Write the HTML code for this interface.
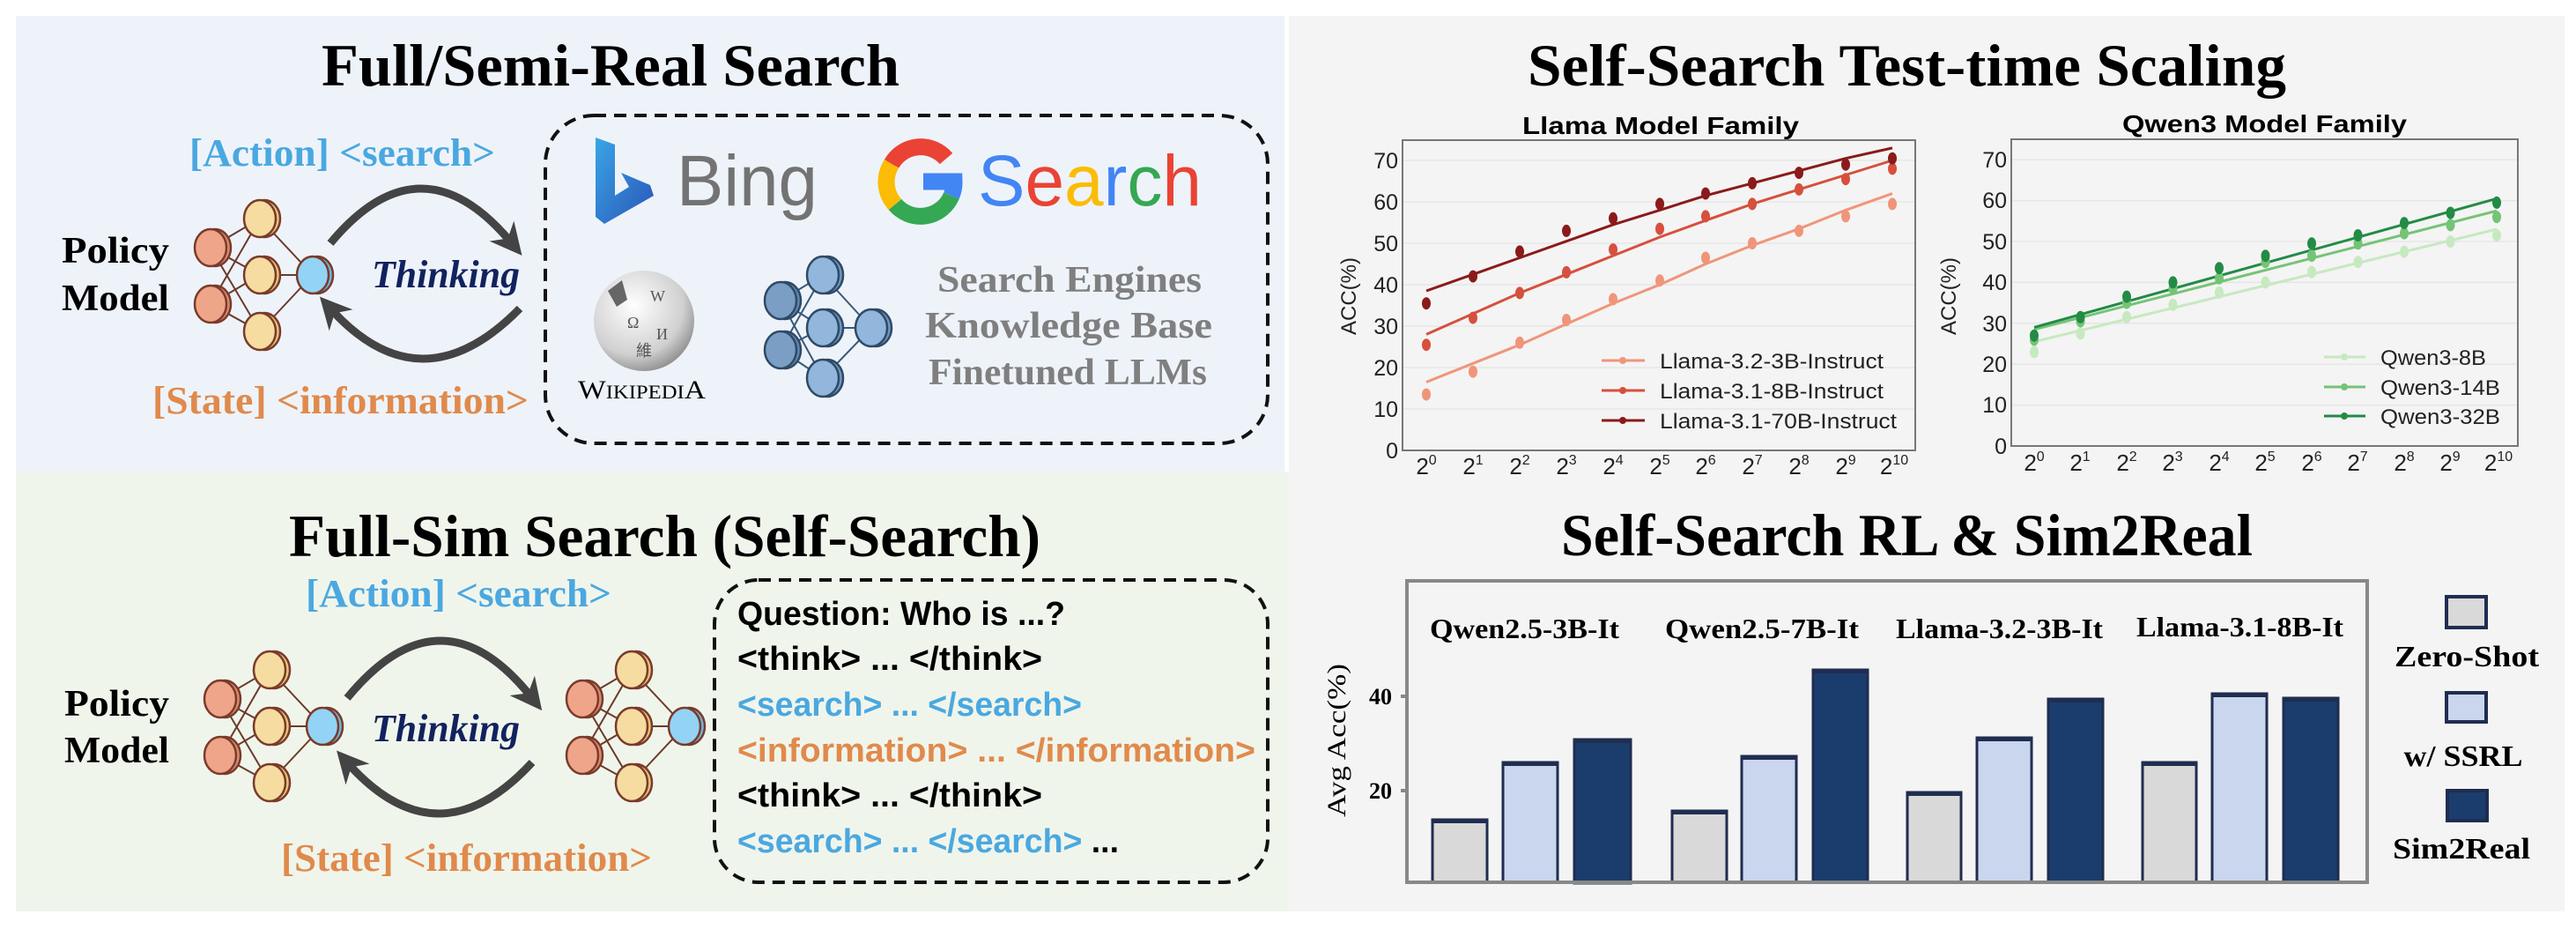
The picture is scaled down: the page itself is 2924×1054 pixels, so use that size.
<!DOCTYPE html>
<html><head><meta charset="utf-8"><style>
html,body{margin:0;padding:0;background:#fff;}
svg{display:block;}
.ser{font-family:"Liberation Serif",serif;font-weight:bold;}
.san{font-family:"Liberation Sans Narrow","Liberation Sans",sans-serif;}
</style></head><body>
<svg width="2924" height="1054" viewBox="0 0 2924 1054" xmlns="http://www.w3.org/2000/svg">
<defs>
<marker id="ah" viewBox="0 0 10 10" refX="5" refY="5" markerWidth="4" markerHeight="4" orient="auto"><path d="M0,0 L10,5 L0,10 L3,5 z" fill="#444"/></marker>
<g id="net">
 <g stroke="#6b3a2a" stroke-width="2">
  <line x1="-56" y1="-31" x2="0" y2="-64"/><line x1="-56" y1="-31" x2="0" y2="0"/><line x1="-56" y1="-31" x2="0" y2="64"/>
  <line x1="-56" y1="33" x2="0" y2="-64"/><line x1="-56" y1="33" x2="0" y2="0"/><line x1="-56" y1="33" x2="0" y2="64"/>
  <line x1="0" y1="-64" x2="60" y2="0"/><line x1="0" y1="0" x2="60" y2="0"/><line x1="0" y1="64" x2="60" y2="0"/>
 </g>
 <g stroke="#7a3b2a" stroke-width="2.5">
  <ellipse cx="-51" cy="-31" rx="18" ry="21" fill="#d98c70"/><ellipse cx="-56" cy="-31" rx="18" ry="21" fill="#eea58a"/>
  <ellipse cx="-51" cy="33" rx="18" ry="21" fill="#d98c70"/><ellipse cx="-56" cy="33" rx="18" ry="21" fill="#eea58a"/>
  <ellipse cx="5" cy="-64" rx="18" ry="21" fill="#e6c47c"/><ellipse cx="0" cy="-64" rx="18" ry="21" fill="#f6dca0"/>
  <ellipse cx="5" cy="0" rx="18" ry="21" fill="#e6c47c"/><ellipse cx="0" cy="0" rx="18" ry="21" fill="#f6dca0"/>
  <ellipse cx="5" cy="64" rx="18" ry="21" fill="#e6c47c"/><ellipse cx="0" cy="64" rx="18" ry="21" fill="#f6dca0"/>
  <ellipse cx="65" cy="0" rx="18" ry="21" fill="#6fb5de"/><ellipse cx="60" cy="0" rx="18" ry="21" fill="#93d3f5"/>
 </g>
</g>
<linearGradient id="bing" x1="0" y1="0" x2="1" y2="1"><stop offset="0" stop-color="#3aa5e6"/><stop offset="1" stop-color="#2a55b8"/></linearGradient>
<radialGradient id="globe" cx="0.4" cy="0.35" r="0.7"><stop offset="0" stop-color="#ffffff"/><stop offset="0.7" stop-color="#d0d0d0"/><stop offset="1" stop-color="#8a8a8a"/></radialGradient>
</defs>

<!-- panels -->
<rect x="18" y="18" width="1440" height="517" fill="#eef3fa"/>
<rect x="18" y="535" width="1445" height="499" fill="#f0f5ec"/>
<rect x="1463" y="18" width="1448" height="1016" fill="#f4f4f4"/>

<!-- ===== Top-left ===== -->
<text class="ser" x="365" y="97" font-size="68" textLength="656" lengthAdjust="spacingAndGlyphs">Full/Semi-Real Search</text>
<text class="ser" x="215" y="188" font-size="44" fill="#4aa8e0" textLength="347" lengthAdjust="spacingAndGlyphs">[Action] &lt;search&gt;</text>
<text class="ser" x="173" y="469" font-size="44" fill="#e08a4c" textLength="427" lengthAdjust="spacingAndGlyphs">[State] &lt;information&gt;</text>
<text class="ser" x="70" y="298" font-size="42" textLength="122" lengthAdjust="spacingAndGlyphs">Policy</text>
<text class="ser" x="70" y="352" font-size="42" textLength="122" lengthAdjust="spacingAndGlyphs">Model</text>
<use href="#net" x="295" y="312"/>
<path d="M375,276 Q478,152 581,276" fill="none" stroke="#444" stroke-width="9" marker-end="url(#ah)"/>
<path d="M590,350 Q478,464 375,350" fill="none" stroke="#444" stroke-width="9" marker-end="url(#ah)"/>
<text class="ser" x="422" y="326" font-size="44" font-style="italic" fill="#12225e" textLength="168" lengthAdjust="spacingAndGlyphs">Thinking</text>
<rect x="619" y="131" width="820" height="372" rx="55" fill="none" stroke="#111" stroke-width="4" stroke-dasharray="14,9"/>
<!-- bing -->
<path d="M676,156 L698,164 L698,222 L714,212 L705,196 L738,210 L742,222 L686,254 L676,246 Z" fill="url(#bing)"/>
<text x="768" y="233" font-family="Liberation Sans,sans-serif" font-size="82" fill="#737373" textLength="160" lengthAdjust="spacingAndGlyphs">Bing</text>
<!-- google G -->
<g fill="none" stroke-width="19">
 <path d="M1074,180 A38,38 0 0 0 1012,186" stroke="#ea4335"/>
 <path d="M1012,186 A38,38 0 0 0 1016,232" stroke="#fbbc05"/>
 <path d="M1016,232 A38,38 0 0 0 1080,222" stroke="#34a853"/>
 <path d="M1080,222 A38,38 0 0 0 1083,206 L1048,206" stroke="#4285f4"/>
</g>
<text x="1110" y="233" font-family="Liberation Sans,sans-serif" font-size="82" textLength="254" lengthAdjust="spacingAndGlyphs"><tspan fill="#4285f4">S</tspan><tspan fill="#ea4335">e</tspan><tspan fill="#fbbc05">a</tspan><tspan fill="#4285f4">r</tspan><tspan fill="#34a853">c</tspan><tspan fill="#ea4335">h</tspan></text>
<!-- wikipedia -->
<circle cx="731" cy="364" r="57" fill="url(#globe)"/>
<g font-family="Liberation Serif,serif" fill="#555" font-size="18"><text x="712" y="372">Ω</text><text x="738" y="342">W</text><text x="745" y="385">И</text><text x="722" y="404">維</text></g>
<path d="M690,330 L706,318 L712,340 L700,348 Z" fill="#666"/>
<text x="656" y="452" font-family="Liberation Serif,serif" font-size="30" textLength="145" lengthAdjust="spacingAndGlyphs">W<tspan font-size="22">IKIPEDI</tspan>A</text>
<!-- blue net -->
<g stroke="#3a5878" stroke-width="2">
 <line x1="886" y1="341" x2="934" y2="312"/><line x1="886" y1="341" x2="934" y2="372"/><line x1="886" y1="341" x2="934" y2="429"/>
 <line x1="886" y1="397" x2="934" y2="312"/><line x1="886" y1="397" x2="934" y2="372"/><line x1="886" y1="397" x2="934" y2="429"/>
 <line x1="934" y1="312" x2="989" y2="372"/><line x1="934" y1="372" x2="989" y2="372"/><line x1="934" y1="429" x2="989" y2="372"/>
</g>
<g stroke="#2f4a66" stroke-width="2.5">
 <ellipse cx="891" cy="341" rx="18" ry="21" fill="#5f86ad"/><ellipse cx="886" cy="341" rx="18" ry="21" fill="#7b9fc4"/>
 <ellipse cx="891" cy="397" rx="18" ry="21" fill="#5f86ad"/><ellipse cx="886" cy="397" rx="18" ry="21" fill="#7b9fc4"/>
 <ellipse cx="939" cy="312" rx="18" ry="21" fill="#6f97c2"/><ellipse cx="934" cy="312" rx="18" ry="21" fill="#92b6dc"/>
 <ellipse cx="939" cy="372" rx="18" ry="21" fill="#6f97c2"/><ellipse cx="934" cy="372" rx="18" ry="21" fill="#92b6dc"/>
 <ellipse cx="939" cy="429" rx="18" ry="21" fill="#6f97c2"/><ellipse cx="934" cy="429" rx="18" ry="21" fill="#92b6dc"/>
 <ellipse cx="994" cy="372" rx="18" ry="21" fill="#6f97c2"/><ellipse cx="989" cy="372" rx="18" ry="21" fill="#92b6dc"/>
</g>
<g class="ser" font-size="42" fill="#7f7f7f">
 <text x="1064" y="331" textLength="300" lengthAdjust="spacingAndGlyphs">Search Engines</text>
 <text x="1050" y="383" textLength="326" lengthAdjust="spacingAndGlyphs">Knowledge Base</text>
 <text x="1054" y="436" textLength="316" lengthAdjust="spacingAndGlyphs">Finetuned LLMs</text>
</g>

<!-- ===== Bottom-left ===== -->
<text class="ser" x="328" y="631" font-size="68" textLength="853" lengthAdjust="spacingAndGlyphs">Full-Sim Search (Self-Search)</text>
<text class="ser" x="347" y="688" font-size="44" fill="#4aa8e0" textLength="347" lengthAdjust="spacingAndGlyphs">[Action] &lt;search&gt;</text>
<text class="ser" x="319" y="988" font-size="44" fill="#e08a4c" textLength="421" lengthAdjust="spacingAndGlyphs">[State] &lt;information&gt;</text>
<text class="ser" x="73" y="812" font-size="42" textLength="119" lengthAdjust="spacingAndGlyphs">Policy</text>
<text class="ser" x="73" y="865" font-size="42" textLength="119" lengthAdjust="spacingAndGlyphs">Model</text>
<use href="#net" x="306" y="824"/>
<use href="#net" x="717" y="824"/>
<path d="M394,792 Q501,662 604,792" fill="none" stroke="#444" stroke-width="9" marker-end="url(#ah)"/>
<path d="M604,865 Q497,981 394,865" fill="none" stroke="#444" stroke-width="9" marker-end="url(#ah)"/>
<text class="ser" x="422" y="841" font-size="44" font-style="italic" fill="#12225e" textLength="168" lengthAdjust="spacingAndGlyphs">Thinking</text>
<rect x="811" y="658" width="628" height="343" rx="50" fill="none" stroke="#111" stroke-width="4" stroke-dasharray="14,9"/>
<g class="san" font-size="38" font-weight="bold">
 <text x="837" y="709" textLength="372" lengthAdjust="spacingAndGlyphs">Question: Who is ...?</text>
 <text x="837" y="760" textLength="346" lengthAdjust="spacingAndGlyphs">&lt;think&gt; ... &lt;/think&gt;</text>
 <text x="837" y="812" fill="#4aa8e0" textLength="391" lengthAdjust="spacingAndGlyphs">&lt;search&gt; ... &lt;/search&gt;</text>
 <text x="837" y="864" fill="#e08a4c" textLength="588" lengthAdjust="spacingAndGlyphs">&lt;information&gt; ... &lt;/information&gt;</text>
 <text x="837" y="915" textLength="346" lengthAdjust="spacingAndGlyphs">&lt;think&gt; ... &lt;/think&gt;</text>
 <text x="837" y="967" textLength="433" lengthAdjust="spacingAndGlyphs"><tspan fill="#4aa8e0">&lt;search&gt; ... &lt;/search&gt;</tspan> ...</text>
</g>

<!-- ===== Top-right ===== -->
<text class="ser" x="1734" y="97" font-size="68" textLength="861" lengthAdjust="spacingAndGlyphs">Self-Search Test-time Scaling</text>
<text class="san" x="1728" y="152" font-size="28" font-weight="bold" textLength="314" lengthAdjust="spacingAndGlyphs">Llama Model Family</text>
<text class="san" x="2409" y="150" font-size="28" font-weight="bold" textLength="323" lengthAdjust="spacingAndGlyphs">Qwen3 Model Family</text>
<!-- Llama grid/frame -->
<g stroke="#e6e6e6" stroke-width="1.5">
 <line x1="1592" x2="2174" y1="464" y2="464"/><line x1="1592" x2="2174" y1="417" y2="417"/><line x1="1592" x2="2174" y1="370" y2="370"/><line x1="1592" x2="2174" y1="323" y2="323"/><line x1="1592" x2="2174" y1="276" y2="276"/><line x1="1592" x2="2174" y1="229" y2="229"/><line x1="1592" x2="2174" y1="182" y2="182"/>
 <line x1="2283" x2="2858" y1="459.6" y2="459.6"/><line x1="2283" x2="2858" y1="413.2" y2="413.2"/><line x1="2283" x2="2858" y1="366.8" y2="366.8"/><line x1="2283" x2="2858" y1="320.4" y2="320.4"/><line x1="2283" x2="2858" y1="274" y2="274"/><line x1="2283" x2="2858" y1="227.6" y2="227.6"/><line x1="2283" x2="2858" y1="181.2" y2="181.2"/>
</g>
<rect x="1592" y="159" width="582" height="352" fill="none" stroke="#777" stroke-width="2"/>
<rect x="2283" y="158" width="575" height="348" fill="none" stroke="#777" stroke-width="2"/>
<g class="san" font-size="25" fill="#222" text-anchor="end">
 <text x="1587" y="520">0</text><text x="1587" y="473">10</text><text x="1587" y="426">20</text><text x="1587" y="379">30</text><text x="1587" y="332">40</text><text x="1587" y="285">50</text><text x="1587" y="238">60</text><text x="1587" y="191">70</text>
 <text x="2278" y="515">0</text><text x="2278" y="468">10</text><text x="2278" y="422">20</text><text x="2278" y="376">30</text><text x="2278" y="329">40</text><text x="2278" y="283">50</text><text x="2278" y="236">60</text><text x="2278" y="190">70</text>
</g>
<g class="san" font-size="26" fill="#222" text-anchor="middle">
 <text x="1619" y="538">2<tspan font-size="16" dy="-11">0</tspan></text>
 <text x="1672" y="538">2<tspan font-size="16" dy="-11">1</tspan></text>
 <text x="1725" y="538">2<tspan font-size="16" dy="-11">2</tspan></text>
 <text x="1778" y="538">2<tspan font-size="16" dy="-11">3</tspan></text>
 <text x="1831" y="538">2<tspan font-size="16" dy="-11">4</tspan></text>
 <text x="1884" y="538">2<tspan font-size="16" dy="-11">5</tspan></text>
 <text x="1936" y="538">2<tspan font-size="16" dy="-11">6</tspan></text>
 <text x="1989" y="538">2<tspan font-size="16" dy="-11">7</tspan></text>
 <text x="2042" y="538">2<tspan font-size="16" dy="-11">8</tspan></text>
 <text x="2095" y="538">2<tspan font-size="16" dy="-11">9</tspan></text>
 <text x="2150" y="538">2<tspan font-size="16" dy="-11">10</tspan></text>
 <text x="2309" y="534">2<tspan font-size="16" dy="-11">0</tspan></text>
 <text x="2361" y="534">2<tspan font-size="16" dy="-11">1</tspan></text>
 <text x="2414" y="534">2<tspan font-size="16" dy="-11">2</tspan></text>
 <text x="2466" y="534">2<tspan font-size="16" dy="-11">3</tspan></text>
 <text x="2519" y="534">2<tspan font-size="16" dy="-11">4</tspan></text>
 <text x="2571" y="534">2<tspan font-size="16" dy="-11">5</tspan></text>
 <text x="2624" y="534">2<tspan font-size="16" dy="-11">6</tspan></text>
 <text x="2676" y="534">2<tspan font-size="16" dy="-11">7</tspan></text>
 <text x="2729" y="534">2<tspan font-size="16" dy="-11">8</tspan></text>
 <text x="2781" y="534">2<tspan font-size="16" dy="-11">9</tspan></text>
 <text x="2836" y="534">2<tspan font-size="16" dy="-11">10</tspan></text>
</g>
<text font-family="Liberation Sans,sans-serif" font-size="24" fill="#222" text-anchor="middle" transform="translate(1539,336) rotate(-90)">ACC(%)</text>
<text font-family="Liberation Sans,sans-serif" font-size="24" fill="#222" text-anchor="middle" transform="translate(2220,336) rotate(-90)">ACC(%)</text>
<!-- Llama series -->
<g fill="none" stroke-width="3">
 <polyline stroke="#f0957a" points="1619,433.5 1672,412.3 1725,391.2 1778,367.6 1831,344.2 1884,323 1936,299.5 1989,278.4 2042,259.6 2095,238.4 2148,219.6"/>
 <polyline stroke="#d6503d" points="1619,379.4 1672,355.9 1725,332.4 1778,311.3 1831,290.1 1884,269 1936,250.2 1989,231.4 2042,214.9 2095,198.5 2148,182"/>
 <polyline stroke="#8b1a1a" points="1619,330 1672,311.3 1725,292.5 1778,273.7 1831,254.9 1884,238.4 1936,221.9 1989,207.9 2042,193.8 2095,179.7 2148,167.9"/>
</g>
<g fill="#f0957a"><ellipse cx="1619" cy="447.6" rx="5" ry="7"/><ellipse cx="1672" cy="421.7" rx="5" ry="7"/><ellipse cx="1725" cy="388.8" rx="5" ry="7"/><ellipse cx="1778" cy="363" rx="5" ry="7"/><ellipse cx="1831" cy="339.5" rx="5" ry="7"/><ellipse cx="1884" cy="318.3" rx="5" ry="7"/><ellipse cx="1936" cy="292.5" rx="5" ry="7"/><ellipse cx="1989" cy="276" rx="5" ry="7"/><ellipse cx="2042" cy="261.9" rx="5" ry="7"/><ellipse cx="2095" cy="245.4" rx="5" ry="7"/><ellipse cx="2148" cy="231.4" rx="5" ry="7"/></g>
<g fill="#d6503d"><ellipse cx="1619" cy="391.2" rx="5" ry="7"/><ellipse cx="1672" cy="360.6" rx="5" ry="7"/><ellipse cx="1725" cy="332.4" rx="5" ry="7"/><ellipse cx="1778" cy="308.9" rx="5" ry="7"/><ellipse cx="1831" cy="283.1" rx="5" ry="7"/><ellipse cx="1884" cy="259.6" rx="5" ry="7"/><ellipse cx="1936" cy="245.4" rx="5" ry="7"/><ellipse cx="1989" cy="231.4" rx="5" ry="7"/><ellipse cx="2042" cy="214.9" rx="5" ry="7"/><ellipse cx="2095" cy="203.2" rx="5" ry="7"/><ellipse cx="2148" cy="191.4" rx="5" ry="7"/></g>
<g fill="#8b1a1a"><ellipse cx="1619" cy="344.2" rx="5" ry="7"/><ellipse cx="1672" cy="313.6" rx="5" ry="7"/><ellipse cx="1725" cy="285.4" rx="5" ry="7"/><ellipse cx="1778" cy="261.9" rx="5" ry="7"/><ellipse cx="1831" cy="247.8" rx="5" ry="7"/><ellipse cx="1884" cy="231.4" rx="5" ry="7"/><ellipse cx="1936" cy="219.6" rx="5" ry="7"/><ellipse cx="1989" cy="207.9" rx="5" ry="7"/><ellipse cx="2042" cy="196.1" rx="5" ry="7"/><ellipse cx="2095" cy="186.7" rx="5" ry="7"/><ellipse cx="2148" cy="179.7" rx="5" ry="7"/></g>
<!-- Llama legend -->
<g stroke-width="3">
 <line x1="1818" x2="1867" y1="409" y2="409" stroke="#f0957a"/><circle cx="1842" cy="409" r="4" fill="#f0957a"/>
 <line x1="1818" x2="1867" y1="443" y2="443" stroke="#d6503d"/><circle cx="1842" cy="443" r="4" fill="#d6503d"/>
 <line x1="1818" x2="1867" y1="477" y2="477" stroke="#8b1a1a"/><circle cx="1842" cy="477" r="4" fill="#8b1a1a"/>
</g>
<g class="san" font-size="24" fill="#222">
 <text x="1884" y="418" textLength="254" lengthAdjust="spacingAndGlyphs">Llama-3.2-3B-Instruct</text>
 <text x="1884" y="452" textLength="254" lengthAdjust="spacingAndGlyphs">Llama-3.1-8B-Instruct</text>
 <text x="1884" y="486" textLength="269" lengthAdjust="spacingAndGlyphs">Llama-3.1-70B-Instruct</text>
</g>
<!-- Qwen series -->
<g fill="none" stroke-width="3">
 <line stroke="#c7e9c0" x1="2309" y1="387.7" x2="2834" y2="260.1"/>
 <line stroke="#74c476" x1="2309" y1="373.8" x2="2834" y2="239.2"/>
 <line stroke="#238b45" x1="2309" y1="371.4" x2="2834" y2="225.3"/>
</g>
<g fill="#c7e9c0"><ellipse cx="2309" cy="399.3" rx="5" ry="7"/><ellipse cx="2361.5" cy="378.4" rx="5" ry="7"/><ellipse cx="2414" cy="359.8" rx="5" ry="7"/><ellipse cx="2466.5" cy="345.9" rx="5" ry="7"/><ellipse cx="2519" cy="332" rx="5" ry="7"/><ellipse cx="2571.5" cy="320.4" rx="5" ry="7"/><ellipse cx="2624" cy="308.8" rx="5" ry="7"/><ellipse cx="2676.5" cy="297.2" rx="5" ry="7"/><ellipse cx="2729" cy="285.6" rx="5" ry="7"/><ellipse cx="2781.5" cy="274" rx="5" ry="7"/><ellipse cx="2834" cy="267" rx="5" ry="7"/></g>
<g fill="#74c476"><ellipse cx="2309" cy="385.4" rx="5" ry="7"/><ellipse cx="2361.5" cy="364.5" rx="5" ry="7"/><ellipse cx="2414" cy="343.6" rx="5" ry="7"/><ellipse cx="2466.5" cy="327.4" rx="5" ry="7"/><ellipse cx="2519" cy="315.8" rx="5" ry="7"/><ellipse cx="2571.5" cy="297.2" rx="5" ry="7"/><ellipse cx="2624" cy="290.2" rx="5" ry="7"/><ellipse cx="2676.5" cy="276.3" rx="5" ry="7"/><ellipse cx="2729" cy="264.7" rx="5" ry="7"/><ellipse cx="2781.5" cy="255.4" rx="5" ry="7"/><ellipse cx="2834" cy="246.2" rx="5" ry="7"/></g>
<g fill="#238b45"><ellipse cx="2309" cy="380.7" rx="5" ry="7"/><ellipse cx="2361.5" cy="359.8" rx="5" ry="7"/><ellipse cx="2414" cy="336.6" rx="5" ry="7"/><ellipse cx="2466.5" cy="320.4" rx="5" ry="7"/><ellipse cx="2519" cy="304.2" rx="5" ry="7"/><ellipse cx="2571.5" cy="290.2" rx="5" ry="7"/><ellipse cx="2624" cy="276.3" rx="5" ry="7"/><ellipse cx="2676.5" cy="267" rx="5" ry="7"/><ellipse cx="2729" cy="253.1" rx="5" ry="7"/><ellipse cx="2781.5" cy="241.5" rx="5" ry="7"/><ellipse cx="2834" cy="229.9" rx="5" ry="7"/></g>
<g stroke-width="3">
 <line x1="2638" x2="2685" y1="405" y2="405" stroke="#c7e9c0"/><circle cx="2661" cy="405" r="4" fill="#c7e9c0"/>
 <line x1="2638" x2="2685" y1="439" y2="439" stroke="#74c476"/><circle cx="2661" cy="439" r="4" fill="#74c476"/>
 <line x1="2638" x2="2685" y1="472" y2="472" stroke="#238b45"/><circle cx="2661" cy="472" r="4" fill="#238b45"/>
</g>
<g class="san" font-size="24" fill="#222">
 <text x="2702" y="414" textLength="120" lengthAdjust="spacingAndGlyphs">Qwen3-8B</text>
 <text x="2702" y="448" textLength="136" lengthAdjust="spacingAndGlyphs">Qwen3-14B</text>
 <text x="2702" y="481" textLength="136" lengthAdjust="spacingAndGlyphs">Qwen3-32B</text>
</g>

<!-- ===== Bottom-right ===== -->
<text class="ser" x="1772" y="630" font-size="68" textLength="785" lengthAdjust="spacingAndGlyphs">Self-Search RL &amp; Sim2Real</text>
<g class="ser" font-size="32">
 <text x="1623" y="724" textLength="215" lengthAdjust="spacingAndGlyphs">Qwen2.5-3B-It</text>
 <text x="1890" y="724" textLength="220" lengthAdjust="spacingAndGlyphs">Qwen2.5-7B-It</text>
 <text x="2152" y="724" textLength="235" lengthAdjust="spacingAndGlyphs">Llama-3.2-3B-It</text>
 <text x="2425" y="722" textLength="235" lengthAdjust="spacingAndGlyphs">Llama-3.1-8B-It</text>
</g>
<g stroke="#1f2d50" stroke-width="3">
 <rect x="1626" y="930" width="62" height="71" fill="#d9d9d9"/>
 <rect x="1706" y="865" width="62" height="136" fill="#c9d6ee"/>
 <rect x="1787" y="839" width="64" height="163" fill="#1a3d6e"/>
 <rect x="1898" y="920" width="62" height="81" fill="#d9d9d9"/>
 <rect x="1977" y="858" width="62" height="143" fill="#c9d6ee"/>
 <rect x="2058" y="760" width="62" height="241" fill="#1a3d6e"/>
 <rect x="2165" y="899" width="61" height="102" fill="#d9d9d9"/>
 <rect x="2244" y="837" width="62" height="164" fill="#c9d6ee"/>
 <rect x="2325" y="793" width="62" height="208" fill="#1a3d6e"/>
 <rect x="2432" y="865" width="61" height="136" fill="#d9d9d9"/>
 <rect x="2511" y="787" width="62" height="214" fill="#c9d6ee"/>
 <rect x="2592" y="792" width="62" height="209" fill="#1a3d6e"/>
</g>
<g fill="#1f2d50">
 <rect x="1626" y="929" width="62" height="5"/><rect x="1706" y="864" width="62" height="5"/><rect x="1787" y="838" width="64" height="5"/>
 <rect x="1898" y="919" width="62" height="5"/><rect x="1977" y="857" width="62" height="5"/><rect x="2058" y="759" width="62" height="5"/>
 <rect x="2165" y="898" width="61" height="5"/><rect x="2244" y="836" width="62" height="5"/><rect x="2325" y="792" width="62" height="5"/>
 <rect x="2432" y="864" width="61" height="5"/><rect x="2511" y="786" width="62" height="5"/><rect x="2592" y="791" width="62" height="5"/>
</g>
<rect x="1597" y="659" width="1090" height="342" fill="none" stroke="#888" stroke-width="4"/>
<g stroke="#888" stroke-width="4"><line x1="1590" x2="1599" y1="790" y2="790"/><line x1="1590" x2="1599" y1="897" y2="897"/></g>
<g class="ser" font-size="26" text-anchor="end"><text x="1580" y="799">40</text><text x="1580" y="906">20</text></g>
<text font-family="Liberation Serif,serif" font-size="30" text-anchor="middle" textLength="174" lengthAdjust="spacingAndGlyphs" transform="translate(1527,840) rotate(-90)">Avg Acc(%)</text>
<g stroke="#1f2d50" stroke-width="4">
 <rect x="2777" y="677" width="45" height="35" fill="#d9d9d9"/>
 <rect x="2777" y="786" width="45" height="33" fill="#c9d6ee"/>
 <rect x="2778" y="897" width="45" height="34" fill="#1a3d6e"/>
</g>
<g class="ser" font-size="34" text-anchor="middle">
 <text x="2800" y="756" textLength="164" lengthAdjust="spacingAndGlyphs">Zero-Shot</text>
 <text x="2796" y="869" textLength="135" lengthAdjust="spacingAndGlyphs">w/ SSRL</text>
 <text x="2794" y="974" textLength="156" lengthAdjust="spacingAndGlyphs">Sim2Real</text>
</g>
</svg>
</body></html>
